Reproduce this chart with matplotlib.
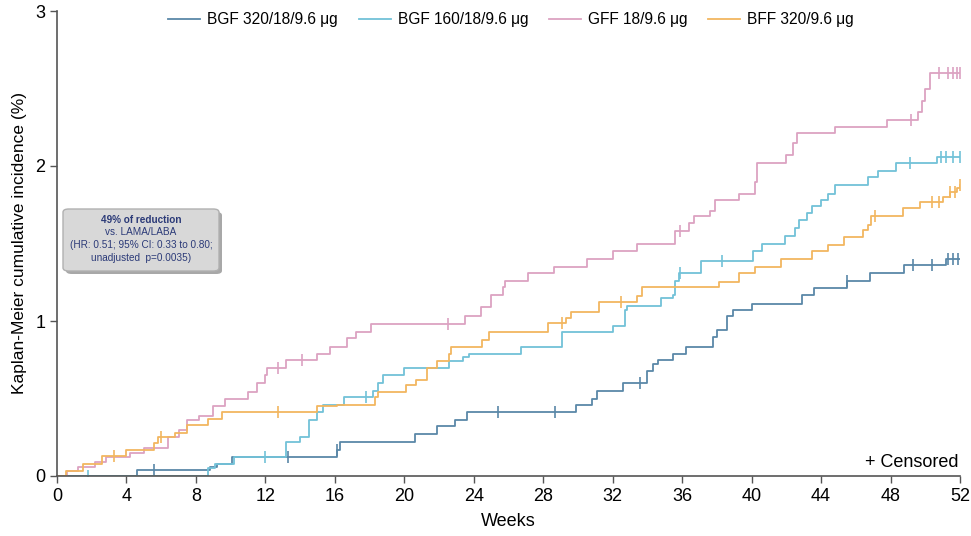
import numpy as np
import matplotlib
matplotlib.use("Agg")
import matplotlib.pyplot as plt
from matplotlib.patches import FancyBboxPatch

plt.rcParams['font.family'] = ['Liberation Sans Narrow', 'Liberation Sans', 'DejaVu Sans']

# ---------------- data ----------------
series_names = ["BGF 320/18/9.6 \u03bcg", "BGF 160/18/9.6 \u03bcg", "GFF 18/9.6 \u03bcg", "BFF 320/9.6 \u03bcg"]
series_colors = ["#5a88a8", "#72c2d8", "#dca2c2", "#f2b660"]

bgf320_t = [0, 4.6, 8.8, 9.2, 10.1, 16.1, 16.3, 20.6, 21.9, 22.9, 23.6, 29.9, 30.8, 31.1, 32.6, 34.0, 34.3, 34.6,
            35.5, 36.2, 37.8, 38.0, 38.6, 38.9, 40.0, 42.9, 43.6, 45.5, 46.8, 48.8, 51.2, 52.0]
bgf320_v = [0, 0.04, 0.06, 0.08, 0.12, 0.17, 0.22, 0.27, 0.32, 0.36, 0.41, 0.46, 0.50, 0.55, 0.60, 0.68, 0.72, 0.75,
            0.79, 0.83, 0.90, 0.94, 1.03, 1.07, 1.11, 1.17, 1.21, 1.26, 1.31, 1.36, 1.40, 1.40]
bgf320_cens = [5.6, 13.3, 16.1, 25.4, 28.7, 33.6, 45.5, 49.3, 50.4, 51.3, 51.6, 51.9]

bgf160_t = [0, 8.7, 9.1, 10.2, 13.2, 14.0, 14.5, 15.0, 15.3, 16.5, 18.2, 18.5, 18.8, 20.0, 22.6, 23.4, 23.7, 26.7,
            29.1, 32.0, 32.7, 32.8, 34.8, 35.5, 35.6, 35.8, 37.1, 40.1, 40.6, 41.9, 42.5, 42.7, 43.2, 43.5, 44.0,
            44.4, 44.8, 46.7, 47.3, 48.3, 50.7, 52.0]
bgf160_v = [0, 0.05, 0.08, 0.12, 0.22, 0.25, 0.36, 0.41, 0.46, 0.51, 0.55, 0.60, 0.65, 0.70, 0.74, 0.77, 0.79, 0.83,
            0.93, 0.97, 1.07, 1.10, 1.15, 1.17, 1.26, 1.31, 1.39, 1.45, 1.50, 1.55, 1.60, 1.65, 1.70, 1.74, 1.78,
            1.82, 1.88, 1.93, 1.97, 2.02, 2.06, 2.06]
bgf160_cens = [1.8, 12.0, 17.8, 35.9, 38.3, 49.1, 50.9, 51.2, 51.6, 52.0]

gff_t = [0, 0.6, 1.2, 2.2, 2.8, 4.2, 5.0, 6.4, 7.0, 7.5, 8.2, 9.0, 9.7, 11.0, 11.5, 12.0, 12.1, 13.2, 15.0, 15.7,
         16.7, 17.2, 18.1, 23.5, 24.4, 25.0, 25.7, 25.8, 27.1, 28.6, 30.5, 32.0, 33.4, 35.6, 36.4, 36.7, 37.6, 37.9,
         39.3, 40.2, 40.3, 42.0, 42.4, 42.6, 44.8, 47.8, 49.6, 49.8, 50.0, 50.3, 52.0]
gff_v = [0, 0.03, 0.06, 0.09, 0.12, 0.15, 0.18, 0.25, 0.30, 0.36, 0.39, 0.45, 0.50, 0.54, 0.60, 0.65, 0.70, 0.75,
         0.79, 0.83, 0.89, 0.93, 0.98, 1.03, 1.09, 1.17, 1.22, 1.26, 1.31, 1.35, 1.40, 1.45, 1.50, 1.58, 1.63, 1.68,
         1.71, 1.78, 1.82, 1.90, 2.02, 2.07, 2.15, 2.21, 2.25, 2.30, 2.35, 2.42, 2.50, 2.60, 2.60]
gff_cens = [12.7, 14.1, 22.5, 35.9, 49.2, 50.8, 51.3, 51.6, 51.8, 52.0]

bff_t = [0, 0.5, 1.5, 2.6, 4.0, 5.6, 5.8, 6.8, 7.5, 8.7, 9.5, 15.0, 16.1, 18.3, 18.5, 20.1, 20.7, 21.3, 21.9, 22.6,
         22.7, 24.5, 24.9, 28.3, 29.3, 29.6, 31.2, 33.4, 33.7, 38.1, 39.3, 40.2, 41.7, 43.5, 44.4, 45.3, 46.4, 46.7,
         46.9, 48.7, 49.7, 51.0, 51.4, 51.8, 52.0]
bff_v = [0, 0.03, 0.08, 0.13, 0.17, 0.21, 0.25, 0.28, 0.33, 0.37, 0.41, 0.45, 0.46, 0.51, 0.54, 0.59, 0.62, 0.70,
         0.74, 0.79, 0.83, 0.88, 0.93, 0.99, 1.02, 1.06, 1.12, 1.16, 1.22, 1.25, 1.31, 1.35, 1.40, 1.45, 1.49, 1.54,
         1.59, 1.62, 1.68, 1.73, 1.77, 1.80, 1.83, 1.86, 1.88]
bff_cens = [3.3, 6.0, 12.7, 29.1, 32.5, 47.1, 50.4, 50.8, 51.4, 51.7, 52.0]

x_ticks = list(range(0, 53, 4))
y_ticks = [0, 1, 2, 3]

annot_lines = ["49% of reduction", "vs. LAMA/LABA", "(HR: 0.51; 95% CI: 0.33 to 0.80;", "unadjusted  p=0.0035)"]

# ---------------- plot ----------------
W, H = 971, 536
fig = plt.figure(figsize=(W / 100, H / 100), dpi=100)
ax = fig.add_axes([57 / W, 60 / H, 903 / W, 465 / H])

all_t = [bgf320_t, bgf160_t, gff_t, bff_t]
all_v = [bgf320_v, bgf160_v, gff_v, bff_v]
all_c = [bgf320_cens, bgf160_cens, gff_cens, bff_cens]

handles = []
for name, col, t, v, cens in zip(series_names, series_colors, all_t, all_v, all_c):
    h, = ax.step(t, v, where='post', color=col, lw=1.3, label=name)
    handles.append(h)
    t_arr = np.array(t)
    v_arr = np.array(v)
    idx = np.searchsorted(t_arr, np.array(cens), side='right') - 1
    cv = v_arr[np.clip(idx, 0, len(v_arr) - 1)]
    ax.plot(cens, cv, linestyle='none', marker='|', markersize=9, mew=1.2, color=col)

ax.set_xlim(0, 52)
ax.set_ylim(0, 3)
ax.set_xticks(x_ticks)
ax.set_yticks(y_ticks)
ax.tick_params(axis='both', labelsize=13, length=5, width=1, color='#555555')
ax.spines['top'].set_visible(False)
ax.spines['right'].set_visible(False)
for s in ['left', 'bottom']:
    ax.spines[s].set_color('#555555')
    ax.spines[s].set_linewidth(1.2)

ax.set_xlabel("Weeks", fontsize=13, labelpad=6)
ax.set_ylabel("Kaplan-Meier cumulative incidence (%)", fontsize=12.5, labelpad=6)

ax.text(0.998, 0.03, "+ Censored", transform=ax.transAxes, ha='right', va='center', fontsize=13)

leg = fig.legend(handles=handles, labels=series_names, loc='center', bbox_to_anchor=(511 / W, 1 - 20 / H),
                 ncol=4, frameon=False, fontsize=11.2, handlelength=2.05, columnspacing=1.35,
                 handletextpad=0.45)

# annotation box with shadow (figure-pixel layout)
bx0, by0, bw, bh = 63, 209, 156, 62  # top-left x, top y, width, height in pixels
def fbox(x, y, w, h, **kw):
    return FancyBboxPatch((x / W, 1 - (y + h) / H), w / W, h / H,
                          boxstyle='round,pad=0,rounding_size=0.006', transform=fig.transFigure, **kw)
fig.patches.append(fbox(bx0 + 3, by0 + 3, bw, bh, facecolor='#a8a8a8', edgecolor='none'))
fig.patches.append(fbox(bx0, by0, bw, bh, facecolor='#d8d8d8', edgecolor='#b0b0b0', lw=1))
line_y = [220, 232.5, 245, 258]
for i, (ln, ly) in enumerate(zip(annot_lines, line_y)):
    fig.text((bx0 + bw / 2) / W, 1 - ly / H, ln, ha='center', va='center', fontsize=7.2,
             color='#2b3a78', fontweight='bold' if i == 0 else 'normal')

fig.savefig("out.png", dpi=100)
